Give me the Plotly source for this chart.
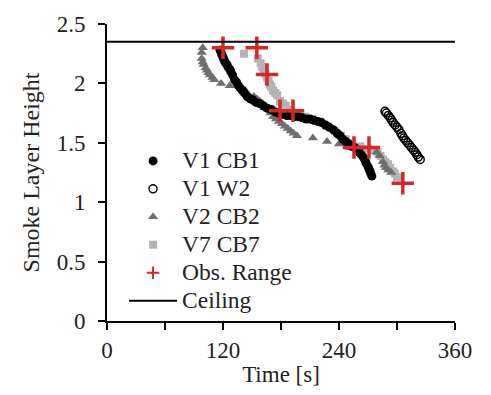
import plotly.graph_objects as go

# V1 CB1 (filled black circles)
cb1_t = [117, 118, 119, 120, 121, 122, 124, 125, 127, 128, 130, 132, 134, 136, 138, 140, 142, 145, 148, 151,
         154, 158, 162, 166, 170, 174, 178, 182, 186, 190, 194, 198, 202, 206, 210, 214, 218, 222, 226, 230,
         234, 238, 241, 244, 247, 250, 253, 256, 259, 261, 263, 265, 267, 268, 270, 271, 272, 273, 274]
cb1_h = [2.28, 2.26, 2.24, 2.22, 2.20, 2.18, 2.16, 2.14, 2.12, 2.10, 2.07, 2.03, 2.01, 1.98, 1.96, 1.94, 1.92, 1.89, 1.87, 1.86,
         1.84, 1.83, 1.81, 1.79, 1.78, 1.76, 1.75, 1.74, 1.73, 1.73, 1.72, 1.72, 1.71, 1.70, 1.70, 1.69, 1.68, 1.67, 1.65, 1.63,
         1.61, 1.58, 1.56, 1.53, 1.51, 1.49, 1.47, 1.46, 1.44, 1.42, 1.40, 1.38, 1.35, 1.33, 1.30, 1.28, 1.26, 1.24, 1.22]

# V1 W2 (open circles)
w2_t = [287.6, 289, 291, 293, 294.5, 296, 298, 300, 302, 304, 305.5, 307, 309, 311, 313, 315, 317, 319, 320.5, 322, 324]
w2_h = [1.765, 1.75, 1.73, 1.71, 1.69, 1.67, 1.65, 1.63, 1.61, 1.58, 1.56, 1.54, 1.52, 1.50, 1.48, 1.46, 1.44, 1.42, 1.40, 1.38, 1.36]

# V2 CB2 (dark grey triangles)
cb2_t = [99, 98, 98, 99, 100, 102, 103.5, 105, 106.5, 109, 111, 118, 127, 143, 152, 155, 158, 161, 164, 166.5,
         169, 172, 175, 178, 181, 184, 187, 190, 193, 196.5, 213, 227.6, 240, 251, 279, 282, 285.5, 287, 288.6, 291, 294]
cb2_h = [2.30, 2.26, 2.21, 2.18, 2.16, 2.13, 2.11, 2.09, 2.07, 2.05, 2.03, 2.00, 1.98, 1.94, 1.89, 1.87, 1.85, 1.83, 1.80, 1.78,
         1.75, 1.72, 1.70, 1.68, 1.66, 1.64, 1.62, 1.60, 1.58, 1.56, 1.54, 1.51, 1.49, 1.46, 1.42, 1.39, 1.34, 1.31, 1.29, 1.27, 1.25]

# V7 CB7 (light grey squares)
cb7_t = [141.7, 156, 159, 160.5, 162, 164, 165.5, 167, 168.6, 170, 171.7, 174, 176, 179, 182, 185, 188, 191, 195, 200,
         205, 212, 220, 228, 236, 242, 247, 253, 262, 270, 276, 280, 283, 285.5, 288, 290.7, 293, 296, 298, 300]
cb7_h = [2.25, 2.21, 2.17, 2.14, 2.11, 2.08, 2.05, 2.02, 1.99, 1.97, 1.94, 1.92, 1.90, 1.85, 1.83, 1.81, 1.78, 1.76, 1.74, 1.73,
         1.72, 1.70, 1.68, 1.64, 1.60, 1.56, 1.53, 1.50, 1.47, 1.45, 1.44, 1.42, 1.39, 1.36, 1.34, 1.32, 1.29, 1.26, 1.24, 1.21]

# Observed range (red crosses)
obs_t = [120, 155, 165.5, 179, 192.4, 255.5, 271, 306]
obs_h = [2.30, 2.30, 2.075, 1.77, 1.77, 1.46, 1.46, 1.16]

# Ceiling
ceil_t = [0, 360]
ceil_h = [2.35, 2.35]

x_ticks = [0, 120, 240, 360]
y_ticks = [0, 0.5, 1, 1.5, 2, 2.5]
y_tick_text = ["0", "0.5", "1", "1.5", "2", "2.5"]

FONT = "Liberation Serif, Times New Roman, serif"
TXT = "#222222"
RED = "#d62728"


def big(s):
    return '<span style="font-size:23.5px">' + s + '</span>'


fig = go.Figure()
fig.add_trace(go.Scatter(x=cb7_t, y=cb7_h, mode="markers", name=big("V7 CB7"), legendrank=4,
                         marker=dict(symbol="square", size=8, color="#b3b3b3")))
fig.add_trace(go.Scatter(x=cb2_t, y=cb2_h, mode="markers", name=big("V2 CB2"), legendrank=3,
                         marker=dict(symbol="triangle-up", size=9, color="#6f6f6f")))
fig.add_trace(go.Scatter(x=w2_t, y=w2_h, mode="markers", name=big("V1 W2"), legendrank=2,
                         marker=dict(symbol="circle-open", size=8, color="#000000", line=dict(width=1.5))))
fig.add_trace(go.Scatter(x=cb1_t, y=cb1_h, mode="markers", name=big("V1 CB1"), legendrank=1,
                         marker=dict(symbol="circle", size=9, color="#000000")))
fig.add_trace(go.Scatter(x=obs_t, y=obs_h, mode="markers", name="Obs. Range", showlegend=False,
                         marker=dict(symbol="cross-thin", size=16, color=RED,
                                     line=dict(width=3.5, color=RED))))
# legend entry for the observed range (smaller symbol, as in the reference legend)
fig.add_trace(go.Scatter(x=[None], y=[None], mode="markers", name=big("Obs. Range"), legendrank=5,
                         marker=dict(symbol="cross-thin", size=9, color=RED, line=dict(width=2, color=RED))))
fig.add_trace(go.Scatter(x=ceil_t, y=ceil_h, mode="lines", name=big("Ceiling"), legendrank=6,
                         line=dict(color="#000000", width=2)))

fig.update_layout(
    width=491, height=395,
    margin=dict(l=107, r=36, t=19, b=69),
    paper_bgcolor="white", plot_bgcolor="white",
    font=dict(family=FONT, size=23, color=TXT),
    showlegend=True,
    legend=dict(x=0.049, y=0.603, xanchor="left", yanchor="top", bgcolor="rgba(0,0,0,0)",
                font=dict(family=FONT, size=19.2, color=TXT), tracegroupgap=0, itemwidth=48),
    xaxis=dict(range=[0, 360], tickvals=x_ticks, ticks="outside", ticklen=7, tickwidth=2, tickcolor="#000",
               showline=True, linecolor="#000", linewidth=2, showgrid=False, zeroline=False,
               minor=dict(dtick=60, tick0=0, ticks="outside", ticklen=7, tickwidth=2, tickcolor="#000", showgrid=False),
               title=dict(text="Time [s]", font=dict(family=FONT, size=23, color=TXT), standoff=4),
               tickfont=dict(family=FONT, size=23, color=TXT)),
    yaxis=dict(range=[0, 2.5], tickvals=y_ticks, ticktext=y_tick_text, ticks="outside", ticklen=7, tickwidth=2,
               tickcolor="#000", showline=True, linecolor="#000", linewidth=2, showgrid=False, zeroline=False,
               title=dict(text="Smoke Layer Height", font=dict(family=FONT, size=24, color=TXT), standoff=10),
               tickfont=dict(family=FONT, size=23, color=TXT), ticklabelstandoff=8),
)

fig.write_html("out.html", config={"displayModeBar": False},
               post_script="document.body.style.margin='0';")
